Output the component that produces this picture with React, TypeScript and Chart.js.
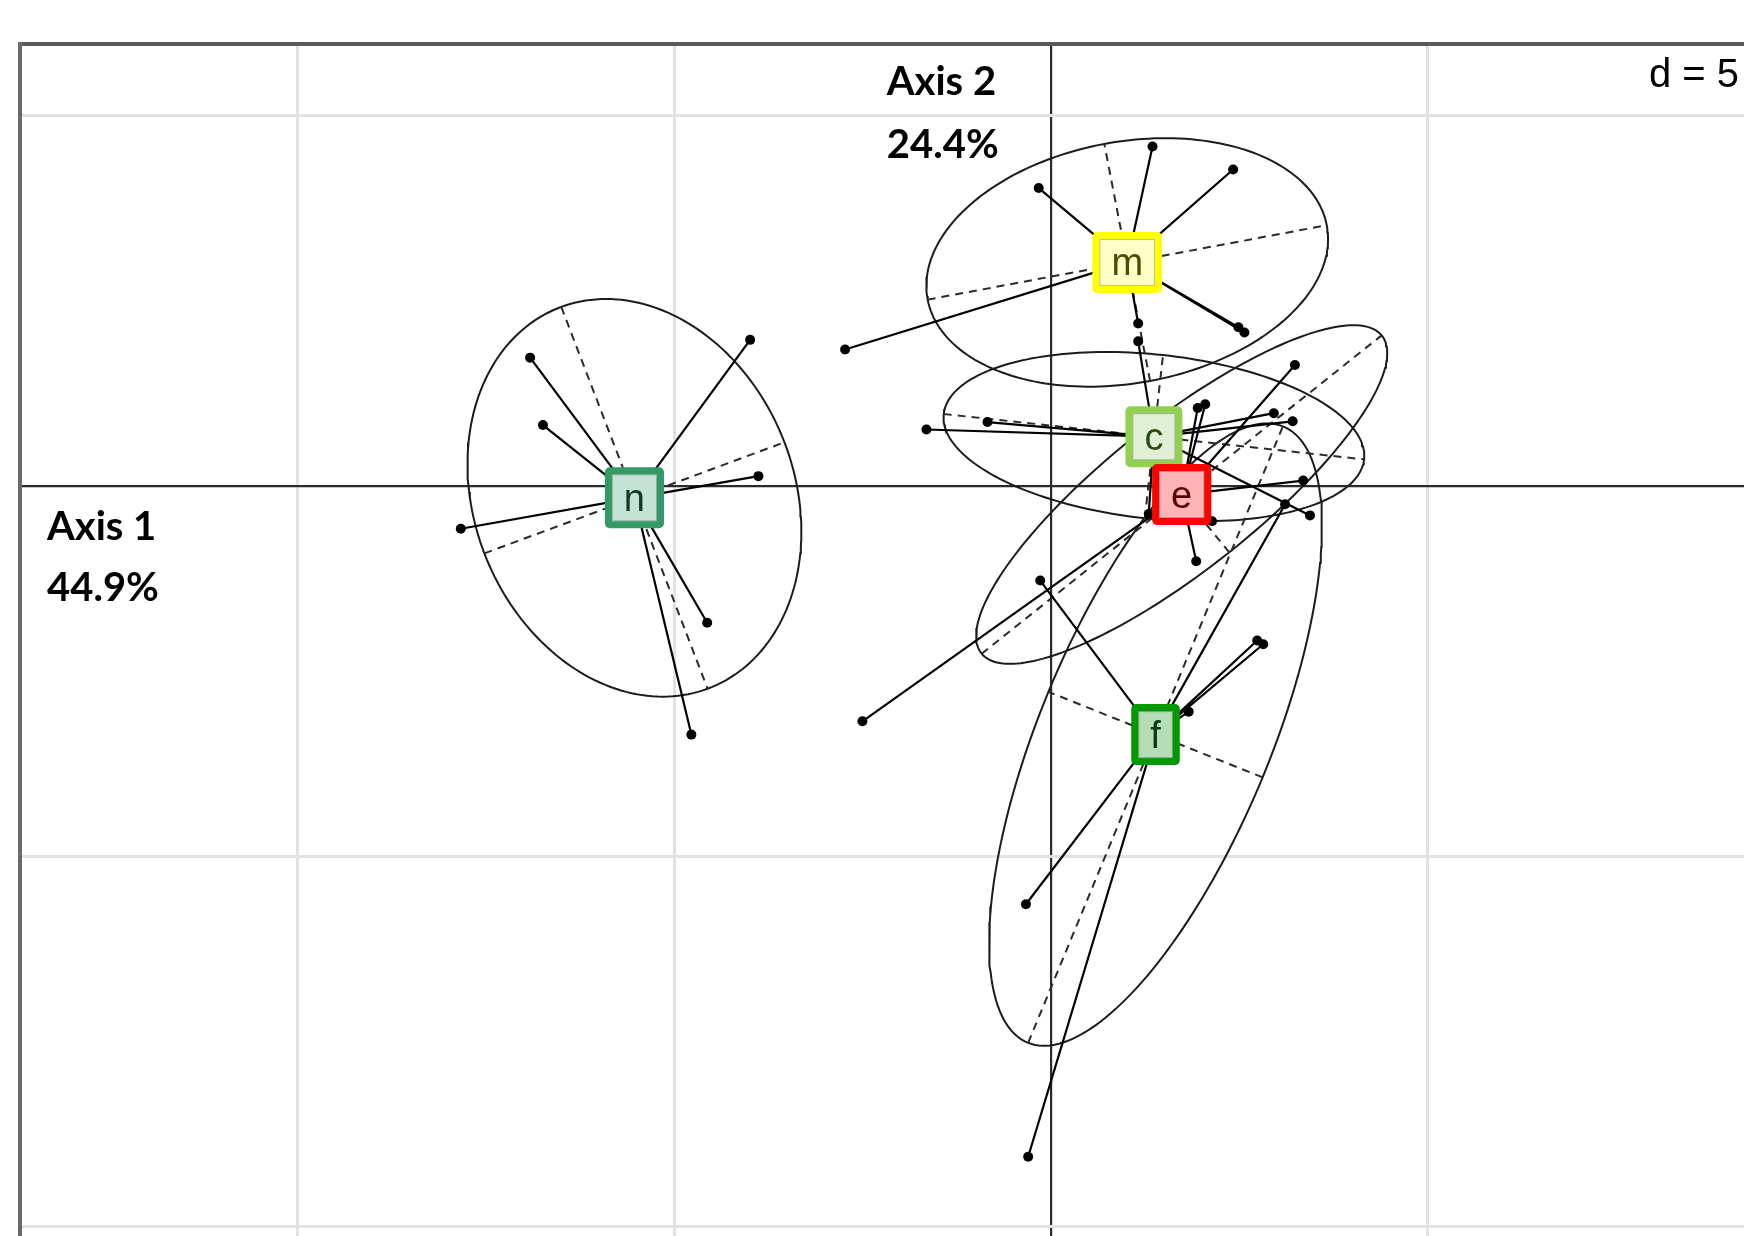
import React, { useEffect, useRef } from "react";
import { Chart, registerables } from "chart.js";

Chart.register(...registerables);

// ---- data (axis units; grid step d = 5) ----
const classLabels = ["n", "m", "c", "e", "f"];

const nX = [-3.99, -6.91, -6.74, -3.88, -7.83, -4.56, -4.77];
const nY = [1.97, 1.73, 0.82, 0.13, -0.58, -1.85, -3.36];

const mX = [1.35, 2.42, -0.16, 2.49, 2.57, -2.73, 1.16];
const mY = [4.58, 4.27, 4.02, 2.14, 2.07, 1.84, 2.19];

const cX = [1.16, -1.65, -0.84, 2.96, 3.21, 3.44, 1.3];
const cY = [1.95, 0.76, 0.86, 0.98, 0.87, -0.4, -0.38];

const eX = [2.05, 1.95, 3.24, 2.14, 3.35, 1.93, -2.5];
const eY = [1.1, 1.05, 1.63, -0.48, 0.07, -1.02, -3.18];

const fX = [-0.14, 3.11, 1.83, 2.74, 2.82, -0.33, -0.3];
const fY = [-1.28, -0.25, -3.05, -2.09, -2.14, -5.65, -9.06];

const classBorder = ["#339966", "#FFFF00", "#92D050", "#FF0000", "#009900"];
const classFill = ["#C5E3D4", "#FFFFC8", "#E0F0D4", "#FFB5B5", "#B6DEB6"];
const classText = ["#0d3b26", "#4d4d00", "#2b4a14", "#5a0000", "#0a3a0a"];

const axis1Title = ["Axis 1", "44.9%"];
const axis2Title = ["Axis 2", "24.4%"];
const gridStep = 5;
const gridLabel = "d = " + gridStep;
const ellipseScale = 1.5;

const xMin = -13.68;
const xMax = 9.2;
const yMin = -10.13;
const yMax = 5.965;

function classStats(xs: number[], ys: number[]) {
  const n = xs.length;
  const mx = xs.reduce((a, b) => a + b, 0) / n;
  const my = ys.reduce((a, b) => a + b, 0) / n;
  let sxx = 0, syy = 0, sxy = 0;
  for (let i = 0; i < n; i++) {
    const dx = xs[i] - mx, dy = ys[i] - my;
    sxx += dx * dx; syy += dy * dy; sxy += dx * dy;
  }
  sxx /= n; syy /= n; sxy /= n;
  const tr = (sxx + syy) / 2;
  const df = (sxx - syy) / 2;
  const r = Math.sqrt(df * df + sxy * sxy);
  const l1 = tr + r, l2 = Math.max(tr - r, 0);
  const th = 0.5 * Math.atan2(2 * sxy, sxx - syy);
  const v1 = [Math.cos(th), Math.sin(th)];
  const v2 = [-Math.sin(th), Math.cos(th)];
  const a = ellipseScale * Math.sqrt(l1);
  const b = ellipseScale * Math.sqrt(l2);
  return { mx, my, v1, v2, a, b };
}

export default function App() {
  const ref = useRef<HTMLCanvasElement>(null);

  useEffect(() => {
    const canvas = ref.current;
    if (!canvas) return;
    const xsAll = [nX, mX, cX, eX, fX];
    const ysAll = [nY, mY, cY, eY, fY];
    const stats = xsAll.map((xs, i) => classStats(xs, ysAll[i]));

    const datasets: any[] = [];
    stats.forEach((s, i) => {
      const xs = xsAll[i], ys = ysAll[i];
      const ell: { x: number; y: number }[] = [];
      const N = 200;
      for (let k = 0; k <= N; k++) {
        const t = (2 * Math.PI * k) / N;
        const ca = Math.cos(t) * s.a, sb = Math.sin(t) * s.b;
        ell.push({ x: s.mx + ca * s.v1[0] + sb * s.v2[0], y: s.my + ca * s.v1[1] + sb * s.v2[1] });
      }
      datasets.push({
        data: ell, showLine: true, pointRadius: 0, borderColor: "#1c1c1c",
        borderWidth: 2, order: 3, tension: 0,
      });
      const axes = [
        { x: s.mx - s.a * s.v1[0], y: s.my - s.a * s.v1[1] },
        { x: s.mx + s.a * s.v1[0], y: s.my + s.a * s.v1[1] },
        { x: NaN, y: NaN },
        { x: s.mx - s.b * s.v2[0], y: s.my - s.b * s.v2[1] },
        { x: s.mx + s.b * s.v2[0], y: s.my + s.b * s.v2[1] },
      ];
      datasets.push({
        data: axes, showLine: true, pointRadius: 0, borderColor: "#2a2a2a",
        borderWidth: 2, borderDash: [8, 6], order: 2, spanGaps: false,
      });
      const stars: { x: number; y: number }[] = [];
      xs.forEach((x, k) => {
        stars.push({ x, y: ys[k] });
        stars.push({ x: s.mx, y: s.my });
        stars.push({ x: NaN, y: NaN });
      });
      datasets.push({
        data: stars, showLine: true, pointRadius: 0, borderColor: "#000",
        borderWidth: 2.2, order: 1, spanGaps: false,
      });
      datasets.push({
        data: xs.map((x, k) => ({ x, y: ys[k] })), showLine: false,
        pointRadius: 5, pointBackgroundColor: "#000", pointBorderWidth: 0,
        backgroundColor: "#000", order: 0,
      });
    });

    const labelPlugin = {
      id: "classLabels",
      afterDatasetsDraw(chart: any) {
        const { ctx, chartArea } = chart;
        const xs = chart.scales.x, ys = chart.scales.y;
        ctx.save();
        stats.forEach((s, i) => {
          const px = xs.getPixelForValue(s.mx);
          const py = ys.getPixelForValue(s.my);
          ctx.font = '38px "Liberation Sans", Arial, sans-serif';
          const tw = ctx.measureText(classLabels[i]).width;
          const w = tw + 38, h = 61, bw = 7;
          const x0 = px - w / 2, y0 = py - h / 2;
          ctx.fillStyle = classBorder[i];
          ctx.beginPath();
          (ctx as any).roundRect(x0, y0, w, h, 5);
          ctx.fill();
          ctx.fillStyle = classFill[i];
          ctx.fillRect(x0 + bw, y0 + bw, w - 2 * bw, h - 2 * bw);
          ctx.strokeStyle = "rgba(0,0,0,0.25)";
          ctx.lineWidth = 1;
          ctx.strokeRect(x0 + bw + 0.5, y0 + bw + 0.5, w - 2 * bw - 1, h - 2 * bw - 1);
          ctx.fillStyle = classText[i];
          ctx.textAlign = "center";
          ctx.textBaseline = "alphabetic";
          ctx.fillText(classLabels[i], px, py + 13);
        });

        const zx = xs.getPixelForValue(0);
        const zy = ys.getPixelForValue(0);
        ctx.fillStyle = "#000";
        ctx.textAlign = "left";
        ctx.textBaseline = "alphabetic";
        ctx.font = 'bold 40px Lato, "Liberation Sans", sans-serif';
        ctx.fillText(axis2Title[0], zx - 164, chartArea.top + 51);
        ctx.fillText(axis2Title[1], zx - 164, chartArea.top + 114);
        ctx.fillText(axis1Title[0], chartArea.left + 27, zy + 54);
        ctx.fillText(axis1Title[1], chartArea.left + 27, zy + 115);
        ctx.font = '40px "Liberation Sans", Arial, sans-serif';
        ctx.textAlign = "right";
        ctx.fillText(gridLabel, chartArea.right - 5, chartArea.top + 43);
        ctx.restore();
      },
    };

    const gridColor = (c: any) => (c.tick && c.tick.value === 0 ? "#2b2b2b" : "#e2e2e2");
    const gridWidth = (c: any) => (c.tick && c.tick.value === 0 ? 2.2 : 3);

    const chart = new Chart(canvas, {
      type: "scatter",
      data: { datasets },
      options: {
        animation: false,
        responsive: false,
        events: [],
        layout: { autoPadding: false, padding: { left: 20, top: 44, right: 0, bottom: 0 } },
        plugins: { legend: { display: false }, tooltip: { enabled: false } },
        scales: {
          x: {
            type: "linear", position: "top", min: xMin, max: xMax,
            ticks: { display: false, stepSize: gridStep, includeBounds: false },
            grid: { color: gridColor, lineWidth: gridWidth, drawTicks: false },
            border: { display: true, color: "#5a5a5a", width: 4 },
          },
          y: {
            type: "linear", position: "left", min: yMin, max: yMax,
            ticks: { display: false, stepSize: gridStep, includeBounds: false },
            grid: { color: gridColor, lineWidth: gridWidth, drawTicks: false },
            border: { display: true, color: "#6a6a6a", width: 4 },
          },
        },
      } as any,
      plugins: [labelPlugin],
    });
    return () => chart.destroy();
  }, []);

  return (
    <div style={{ position: "absolute", left: 0, top: 0, width: 1744, height: 1236, background: "#fff" }}>
      <canvas ref={ref} width={1744} height={1236} style={{ display: "block", width: 1744, height: 1236 }} />
    </div>
  );
}
